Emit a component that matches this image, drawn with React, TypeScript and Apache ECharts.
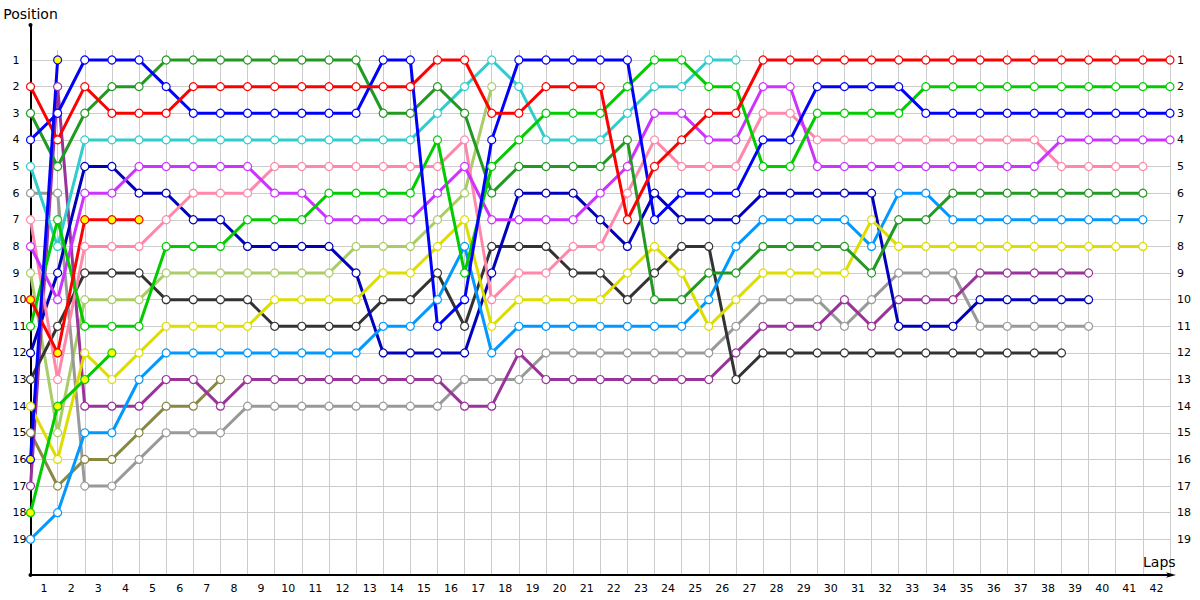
import React, { useEffect, useRef } from "react";
import * as echarts from "echarts";

// Tick labels
const LAP_LABELS = ["1","2","3","4","5","6","7","8","9","10","11","12","13","14","15","16","17","18","19","20","21","22","23","24","25","26","27","28","29","30","31","32","33","34","35","36","37","38","39","40","41","42"];

// Positions per lap, starting at lap 0 (grid)
const RED = [2,4,2,3,3,3,2,2,2,2,2,2,2,2,2,1,1,3,3,2,2,2,7,5,4,3,3,1,1,1,1,1,1,1,1,1,1,1,1,1,1,1,1];
const GREEN = [11,7,11,11,11,8,8,8,7,7,7,6,6,6,6,4,9,5,4,3,3,3,2,1,1,2,2,5,5,3,3,3,3,2,2,2,2,2,2,2,2,2,2];
const BLUE = [4,3,1,1,1,2,3,3,3,3,3,3,3,1,1,11,10,4,1,1,1,1,1,7,6,6,6,4,4,2,2,2,2,3,3,3,3,3,3,3,3,3,3];
const VIOLET = [8,10,6,6,5,5,5,5,5,6,6,7,7,7,7,6,5,7,7,7,7,6,5,3,3,4,4,2,2,5,5,5,5,5,5,5,5,5,4,4,4,4,4];
const PINK = [7,13,8,8,8,7,6,6,6,5,5,5,5,5,5,5,4,10,9,9,8,8,6,4,5,5,5,3,3,4,4,4,4,4,4,4,4,4,5,5,5,5];
const DKGREEN = [3,5,3,2,2,1,1,1,1,1,1,1,1,3,3,2,3,6,5,5,5,5,4,10,10,9,9,8,8,8,8,9,7,7,6,6,6,6,6,6,6,6];
const AZURE = [19,18,15,15,13,12,12,12,12,12,12,12,12,11,11,10,8,12,11,11,11,11,11,11,11,10,8,7,7,7,7,8,6,6,7,7,7,7,7,7,7,7];
const YELLOW = [14,16,12,13,12,11,11,11,11,10,10,10,10,9,9,8,7,11,10,10,10,10,9,8,9,11,10,9,9,9,9,7,8,8,8,8,8,8,8,8,8,8];
const PURPLE = [17,2,14,14,14,13,13,14,13,13,13,13,13,13,13,13,14,14,12,13,13,13,13,13,13,13,12,11,11,11,10,11,10,10,10,9,9,9,9,9];
const NAVY = [12,9,5,5,6,6,7,7,8,8,8,8,9,12,12,12,12,9,6,6,6,7,8,6,7,7,7,6,6,6,6,6,11,11,11,10,10,10,10,10];
const GRAY = [6,6,17,17,16,15,15,15,14,14,14,14,14,14,14,14,13,13,13,12,12,12,12,12,12,12,11,10,10,10,11,10,9,9,9,11,11,11,11,11];
const DKGRAY = [13,11,9,9,9,10,10,10,10,11,11,11,11,10,10,9,11,8,8,8,9,9,10,9,8,8,13,12,12,12,12,12,12,12,12,12,12,12,12];
const CYAN = [5,8,4,4,4,4,4,4,4,4,4,4,4,4,4,3,2,1,2,4,4,4,3,2,2,1,1];
const LTOLIVE = [9,15,10,10,10,9,9,9,9,9,9,9,8,8,8,7,6,2];
const OLIVE = [15,17,16,16,15,14,14,13];
const RET_RED = [10,12,7,7,7];
const RET_GREEN = [18,14,13,12];
const RET_BLUE = [16,1];

const POSITIONS_MIN = 1;
const POSITIONS_MAX = 19;
const LAP_MAX = 42;

const drivers = [
  { name: "Olive", color: "#888844", data: OLIVE, retired: false },
  { name: "Light olive", color: "#aacc66", data: LTOLIVE, retired: false },
  { name: "Gray", color: "#999999", data: GRAY, retired: false },
  { name: "Purple", color: "#993399", data: PURPLE, retired: false },
  { name: "Dark gray", color: "#333333", data: DKGRAY, retired: false },
  { name: "Navy", color: "#0000bb", data: NAVY, retired: false },
  { name: "Azure", color: "#0099ff", data: AZURE, retired: false },
  { name: "Yellow", color: "#dddd00", data: YELLOW, retired: false },
  { name: "Cyan", color: "#33cccc", data: CYAN, retired: false },
  { name: "Pink", color: "#ff88aa", data: PINK, retired: false },
  { name: "Violet", color: "#cc33ff", data: VIOLET, retired: false },
  { name: "Dark green", color: "#229922", data: DKGREEN, retired: false },
  { name: "Green", color: "#00cc00", data: GREEN, retired: false },
  { name: "Blue", color: "#0000ff", data: BLUE, retired: false },
  { name: "Red", color: "#ff0000", data: RED, retired: false },
  { name: "Retired red", color: "#ff0000", data: RET_RED, retired: true },
  { name: "Retired green", color: "#00cc00", data: RET_GREEN, retired: true },
  { name: "Retired blue", color: "#0000ff", data: RET_BLUE, retired: true },
];

const LABEL_FONT = "'DejaVu Sans', sans-serif";

export default function App() {
  const ref = useRef<HTMLDivElement>(null);
  useEffect(() => {
    if (!ref.current) return;
    const chart = echarts.init(ref.current, undefined, { renderer: "svg" });
    const gridL = 30.5;
    const gridR = 30;
    const option: any = {
      animation: false,
      backgroundColor: "#ffffff",
      grid: [
        { left: gridL, right: gridR, top: 60, bottom: 60.7 },
        { left: gridL, right: gridR, top: 50, bottom: 25 },
        { left: gridL, right: gridR, top: 25, bottom: 25 },
      ],
      xAxis: [
        {
          gridIndex: 0, type: "value", min: 0, max: LAP_MAX, interval: 1,
          show: false, splitLine: { show: false },
        },
        {
          gridIndex: 1, type: "value", min: 0, max: LAP_MAX, interval: 1,
          axisLine: { show: false }, axisTick: { show: false }, axisLabel: { show: false },
          splitLine: { show: true, lineStyle: { color: "#cccccc", width: 1 } },
        },
        {
          gridIndex: 1, type: "category", data: LAP_LABELS, boundaryGap: true, position: "bottom",
          axisLine: { show: true, lineStyle: { color: "#000000", width: 2 }, symbol: ["circle", "arrow"], symbolSize: [4, 10], symbolOffset: [0, 6] },
          axisTick: { show: false },
          splitLine: { show: false },
          axisLabel: { show: true, margin: 8, color: "#000000", fontFamily: LABEL_FONT, fontSize: 11, interval: 0 },
          name: "Laps", nameLocation: "end", nameGap: -27,
          nameTextStyle: { color: "#000000", fontFamily: LABEL_FONT, fontSize: 14, align: "left", verticalAlign: "bottom", padding: [0, 0, 6, 0] },
        },
        { gridIndex: 2, type: "value", min: 0, max: LAP_MAX, show: false },
      ],
      yAxis: [
        {
          gridIndex: 0, type: "value", inverse: true, min: POSITIONS_MIN, max: POSITIONS_MAX, interval: 1,
          position: "left",
          axisLine: { show: false }, axisTick: { show: false },
          axisLabel: { show: true, align: "left", margin: 18, color: "#000000", fontFamily: LABEL_FONT, fontSize: 11 },
          splitLine: { show: true, lineStyle: { color: "#cccccc", width: 1 } },
        },
        {
          gridIndex: 0, type: "value", inverse: true, min: POSITIONS_MIN, max: POSITIONS_MAX, interval: 1,
          position: "right",
          axisLine: { show: false }, axisTick: { show: false },
          axisLabel: { show: true, align: "left", margin: 7, color: "#000000", fontFamily: LABEL_FONT, fontSize: 11 },
          splitLine: { show: false },
        },
        { gridIndex: 1, type: "value", show: false, min: 0, max: 1 },
        {
          gridIndex: 2, type: "value", min: 0, max: 1,
          axisLine: { show: true, onZero: false, lineStyle: { color: "#000000", width: 2 }, symbol: ["none", "circle"], symbolSize: [4, 4] },
          axisTick: { show: false }, axisLabel: { show: false }, splitLine: { show: false },
          name: "Position", nameLocation: "end", nameGap: 4,
          nameTextStyle: { color: "#000000", fontFamily: LABEL_FONT, fontSize: 14, align: "center", verticalAlign: "bottom" },
        },
      ],
      series: drivers.map((d) => ({
        type: "line",
        name: d.name,
        xAxisIndex: 0,
        yAxisIndex: 0,
        data: d.data.map((p, i) => [i, p]),
        symbol: "circle",
        symbolSize: 8,
        showSymbol: true,
        showAllSymbol: true,
        clip: false,
        silent: true,
        lineStyle: { color: d.color, width: 3 },
        itemStyle: { color: d.retired ? "#ffff00" : "#ffffff", borderColor: d.color, borderWidth: 1.2 },
        emphasis: { disabled: true },
      })),
    };
    chart.setOption(option);
    return () => chart.dispose();
  }, []);
  return (
    <div
      ref={ref}
      style={{ position: "absolute", left: 0, top: 0, width: 1200, height: 600, background: "#fff" }}
    />
  );
}
